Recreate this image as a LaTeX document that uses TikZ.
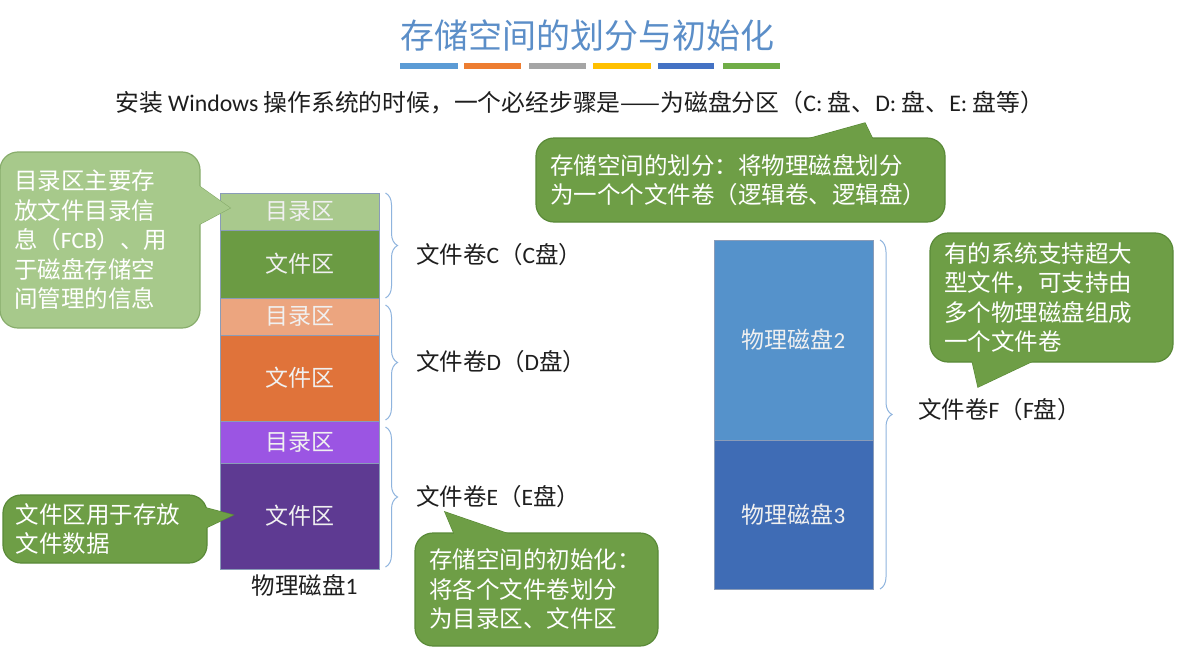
\documentclass[tikz,border=0pt]{standalone}
\usepackage{fontspec}
\setmainfont{Noto Sans CJK SC}
\newfontfamily\lat{Carlito}
\usetikzlibrary{decorations.pathreplacing,calc}
\definecolor{titleblue}{HTML}{5B8EC8}
\definecolor{barA}{HTML}{5B9BD5}
\definecolor{barB}{HTML}{ED7D31}
\definecolor{barC}{HTML}{A5A5A5}
\definecolor{barD}{HTML}{FFC000}
\definecolor{barE}{HTML}{4472C4}
\definecolor{barF}{HTML}{70AD47}
\definecolor{segline}{HTML}{8A9CB8}
\definecolor{cdirc}{HTML}{A9C98D}
\definecolor{cfilec}{HTML}{6B9B43}
\definecolor{ddirc}{HTML}{ECA57F}
\definecolor{dfilec}{HTML}{E0733A}
\definecolor{edirc}{HTML}{9B55E3}
\definecolor{efilec}{HTML}{5E3A92}
\definecolor{disktwo}{HTML}{5592CB}
\definecolor{diskthree}{HTML}{3F6CB5}
\definecolor{bracec}{HTML}{8FB4DE}
\definecolor{callg}{HTML}{6E9E46}
\definecolor{callgb}{HTML}{5A8A38}
\definecolor{calllg}{HTML}{A7C98B}
\definecolor{calllgb}{HTML}{88AD6C}
\definecolor{ink}{HTML}{1E1E1E}
\begin{document}
\begin{tikzpicture}[x=1pt,y=-1pt,
  seg/.style={draw=segline, line width=0.6pt, minimum width=159pt, anchor=north west, inner sep=0pt, outer sep=0pt, text=white!94!black, font=\fontsize{23}{27}\selectfont},
  brc/.style={draw=bracec, line width=1pt, decorate, decoration={brace, amplitude=12pt}},
  lbl/.style={anchor=west, inner sep=0pt, text=ink, font=\fontsize{23.5}{28}\selectfont},
  cal/.style={fill=callg, draw=callgb, line width=1.2pt, rounded corners=18pt, text=white, align=left, inner xsep=14pt, inner ysep=0pt, font=\fontsize{23.5}{29.5}\selectfont},
  wdg/.style={fill=callg, draw=callgb, line width=1.2pt},
]
\useasboundingbox[fill=white] (0,0) rectangle (1199,653);

% title and colour bars
\node[font=\fontsize{34}{40}\selectfont, text=titleblue, inner sep=0pt] (title) at (587,36) {存储空间的划分与初始化};
\fill[barA] (400,63) rectangle (458,69);
\fill[barB] (464,63) rectangle (521,69);
\fill[barC] (529,63) rectangle (586,69);
\fill[barD] (593,63) rectangle (651,69);
\fill[barE] (658,63) rectangle (714,69);
\fill[barF] (723,63) rectangle (780,69);

% headline
\node[anchor=west, inner sep=0pt, text=ink, font=\fontsize{23.8}{28}\selectfont] (head) at (115,103)
  {安装 {\lat Windows} 操作系统的时候，一个必经步骤是——为磁盘分区（{\lat C:} 盘、{\lat D:} 盘、{\lat E:} 盘等）};

% physical disk 1
\node[seg, fill=cdirc, minimum height=37pt] (cdir) at (220,193) {目录区};
\node[seg, fill=cfilec, minimum height=68pt] (cfile) at (cdir.south west) {文件区};
\node[seg, fill=ddirc, minimum height=37pt] (ddir) at (cfile.south west) {目录区};
\node[seg, fill=dfilec, minimum height=86pt] (dfile) at (ddir.south west) {文件区};
\node[seg, fill=edirc, minimum height=42pt] (edir) at (dfile.south west) {目录区};
\node[seg, fill=efilec, minimum height=106pt] (efile) at (edir.south west) {文件区};
\node[lbl, anchor=north, text=ink] (disk1) at ($(efile.south)+(5,5)$) {物理磁盘{\lat 1}};

% physical disks 2 and 3
\node[seg, fill=disktwo, minimum height=200pt] (p2) at (714,240) {物理磁盘{\lat 2}};
\node[seg, fill=diskthree, minimum height=149pt] (p3) at (p2.south west) {物理磁盘{\lat 3}};

% braces
\draw[brc] ($(cdir.north east)+(6.5,0)$) -- ($(cfile.south east)+(6.5,0)$);
\draw[brc] ($(ddir.north east)+(6.5,7)$) -- ($(dfile.south east)+(6.5,-1)$);
\draw[brc] ($(edir.north east)+(6.5,6)$) -- ($(efile.south east)+(6.5,-2)$);
\draw[brc] ($(p2.north east)+(7,0)$) -- ($(p3.south east)+(7,0)$);

% volume labels
\node[lbl] (lc) at (416,255) {文件卷{\lat C}（{\lat C}盘）};
\node[lbl] (ld) at (416,362) {文件卷{\lat D}（{\lat D}盘）};
\node[lbl] (le) at (416,497) {文件卷{\lat E}（{\lat E}盘）};
\node[lbl] (lf) at (918,410) {文件卷{\lat F}（{\lat F}盘）};

% callout: directory area (top left)
\coordinate (tA) at (230,208);
\path[wdg, fill=calllg, draw=calllgb] (185,176) -- (tA) -- (185,232) -- cycle;
\node[cal, fill=calllg, draw=calllgb, minimum height=176pt, text width=172pt] (calA) at (100,240)
  {目录区主要存\\放文件目录信\\息（{\lat FCB}）、用\\于磁盘存储空\\间管理的信息};
\fill[calllg] (tA) -- ($(tA)!0.71!(185,176)$) -- ($(tA)!0.71!(185,232)$) -- cycle;

% callout: file area (bottom left)
\coordinate (tB) at (233,515);
\path[wdg] (195,505) -- (tB) -- (195,533) -- cycle;
\node[cal, minimum height=68pt, text width=178pt, inner xsep=13pt] (calB) at (105,529)
  {文件区用于存放\\文件数据};
\fill[callg] (tB) -- ($(tB)!0.74!(195,505)$) -- ($(tB)!0.74!(195,533)$) -- cycle;

% callout: partition (top middle)
\coordinate (tC) at (865,123);
\path[wdg] (775,148) -- (tC) -- (877,148) -- cycle;
\node[cal, minimum height=84pt, text width=381pt] (calC) at (740.5,180)
  {存储空间的划分：将物理磁盘划分\\为一个个文件卷（逻辑卷、逻辑盘）};
\fill[callg] (tC) -- ($(tC)!0.68!(775,148)$) -- ($(tC)!0.68!(877,148)$) -- cycle;

% callout: initialisation (bottom middle)
\coordinate (tD) at (445,512);
\path[wdg] (458,543) -- (tD) -- (535,543) -- cycle;
\node[cal, minimum height=113pt, text width=215pt] (calD) at (536.5,589.5)
  {存储空间的初始化：\\将各个文件卷划分\\为目录区、文件区};
\fill[callg] (tD) -- ($(tD)!0.74!(458,543)$) -- ($(tD)!0.74!(535,543)$) -- cycle;

% callout: large files (right)
\coordinate (tE) at (978,387);
\path[wdg] (970,352) -- (tE) -- (1052,352) -- cycle;
\node[cal, minimum height=129pt, text width=215pt] (calE) at (1051.5,297.5)
  {有的系统支持超大\\型文件，可支持由\\多个物理磁盘组成\\一个文件卷};
\fill[callg] (tE) -- ($(tE)!0.77!(970,352)$) -- ($(tE)!0.77!(1052,352)$) -- cycle;
\end{tikzpicture}
\end{document}
